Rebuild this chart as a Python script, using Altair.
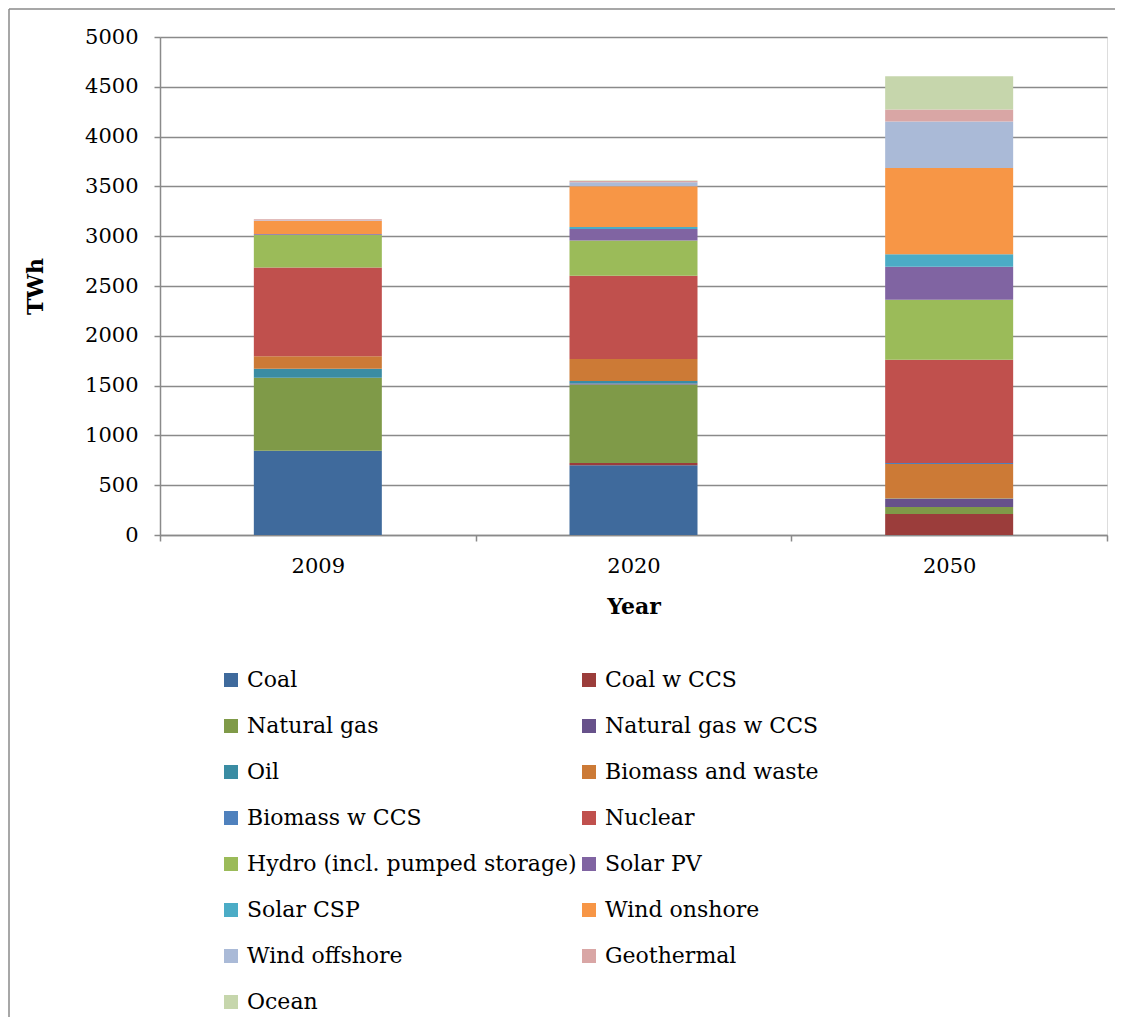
import altair as alt
import pandas as pd

years = ["2009", "2020", "2050"]
sources = [
    "Coal", "Coal w CCS", "Natural gas", "Natural gas w CCS", "Oil",
    "Biomass and waste", "Biomass w CCS", "Nuclear",
    "Hydro (incl. pumped storage)", "Solar PV", "Solar CSP",
    "Wind onshore", "Wind offshore", "Geothermal", "Ocean",
]
colors = [
    "#3F6A9C", "#9B3D3B", "#7F9A48", "#67518A", "#3A8CA3",
    "#CC7A36", "#4F81BD", "#C0504D", "#9BBB59", "#8064A2",
    "#4BACC6", "#F79646", "#AABAD7", "#D9A6A5", "#C6D6AC",
]

coal = [845, 700, 0]
coal_ccs = [0, 22, 212]
natural_gas = [735, 790, 70]
natural_gas_ccs = [0, 10, 80]
oil = [90, 25, 5]
biomass_waste = [125, 220, 345]
biomass_ccs = [0, 0, 10]
nuclear = [890, 837, 1037]
hydro = [330, 352, 602]
solar_pv = [8, 116, 332]
solar_csp = [0, 20, 127]
wind_onshore = [130, 409, 864]
wind_offshore = [5, 40, 468]
geothermal = [12, 12, 121]
ocean = [1, 5, 334]

series = [coal, coal_ccs, natural_gas, natural_gas_ccs, oil, biomass_waste,
          biomass_ccs, nuclear, hydro, solar_pv, solar_csp, wind_onshore,
          wind_offshore, geothermal, ocean]

rows = []
for i, (s, vals) in enumerate(zip(sources, series)):
    for yr, v in zip(years, vals):
        rows.append({"Year": yr, "Source": s, "TWh": v, "order": i})
df = pd.DataFrame(rows)

FONT = "DejaVu Serif"
GRAY = "#8a8a8a"

bars = alt.Chart(df).mark_bar(width=128).encode(
    x=alt.X(
        "Year:N", sort=years,
        scale=alt.Scale(paddingInner=0, paddingOuter=0),
        axis=alt.Axis(
            title="Year", labelAngle=0, tickBand="extent", grid=False,
            labelFont=FONT, labelFontSize=21, labelColor="black",
            labelPadding=14, tickSize=6, tickColor=GRAY, tickWidth=1.5,
            domainColor=GRAY, domainWidth=1.5,
            titleFont=FONT, titleFontSize=22, titleFontWeight="bold",
            titleColor="black", titleY=71, titleBaseline="middle",
        ),
    ),
    y=alt.Y(
        "TWh:Q",
        scale=alt.Scale(domain=[0, 5000], nice=False),
        axis=alt.Axis(
            title="TWh", values=list(range(0, 5001, 500)), format="d",
            grid=True, gridColor=GRAY, gridWidth=1.5,
            labelFont=FONT, labelFontSize=21, labelColor="black",
            labelPadding=16, tickSize=6, tickColor=GRAY, tickWidth=1.5,
            domainColor=GRAY, domainWidth=1.5,
            titleFont=FONT, titleFontSize=22, titleFontWeight="bold",
            titleColor="black", titleX=-125, titleY=249,
            titleBaseline="middle", titleAngle=270,
        ),
    ),
    color=alt.Color(
        "Source:N", sort=sources,
        scale=alt.Scale(domain=sources, range=colors),
        legend=alt.Legend(
            title=None, orient="none", legendX=60, legendY=632,
            direction="horizontal", columns=2, columnPadding=1, rowPadding=24,
            symbolType="square", symbolSize=196, symbolStrokeWidth=0,
            labelFont=FONT, labelFontSize=22, labelColor="black",
            labelOffset=5, labelLimit=500,
        ),
    ),
    order=alt.Order("order:Q", sort="ascending"),
)

frame_data = alt.Data(values=[{}])
left_line = alt.Chart(frame_data).mark_rule(color=GRAY, strokeWidth=1.5).encode(
    x=alt.value(-151), y=alt.value(-28), y2=alt.value(980)
)
top_line = alt.Chart(frame_data).mark_rule(color=GRAY, strokeWidth=1.5).encode(
    x=alt.value(-151), x2=alt.value(955), y=alt.value(-28)
)

chart = alt.layer(bars, left_line, top_line).properties(
    width=947, height=498, padding=0
).configure_view(stroke=None).configure(background="white")

chart.save("out.html", embed_options={"renderer": "svg", "actions": False})
